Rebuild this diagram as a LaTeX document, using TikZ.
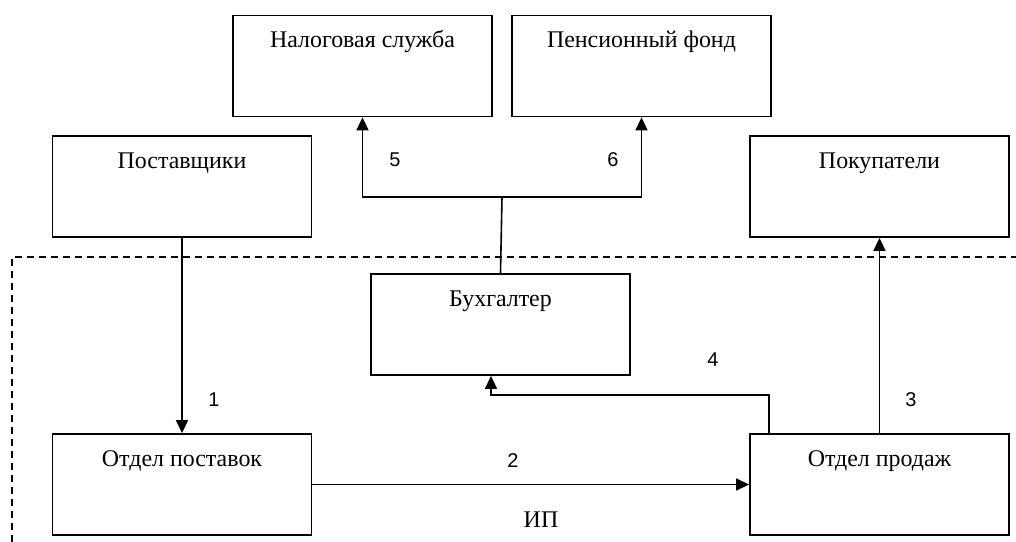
\documentclass[tikz,border=0pt]{standalone}
\usepackage{fontspec}
\setmainfont{Liberation Serif}
\newfontfamily\numfont{Liberation Sans}
\usetikzlibrary{arrows.meta}
\begin{document}
\begin{tikzpicture}[x=1bp,y=-1bp,
  blk/.style={draw, line width=1.8bp, minimum width=259bp, minimum height=101bp, inner sep=0pt},
  ttl/.style={anchor=base, inner sep=0pt, font=\fontsize{24}{27}\selectfont},
  num/.style={anchor=base, inner sep=0pt, font=\numfont\fontsize{20}{24}\selectfont},
  conn/.style={line width=1.6bp},
  arr/.style={line width=1.6bp, -{Triangle[length=13bp,width=12bp]}}]
\useasboundingbox (0,0) rectangle (1016,542);
% boxes
\node[blk] (nal) at (362.5,66) {};
\node[blk] (pen) at (641.5,66) {};
\node[blk] (post) at (182,186.5) {};
\node[blk] (pok) at (879.5,186.5) {};
\node[blk] (buh) at (500.5,324.5) {};
\node[blk] (otp) at (182,484.5) {};
\node[blk] (otpr) at (879.5,484.5) {};
% titles
\node[ttl] (tnal) at ([yshift=-33bp]nal.north) {Налоговая служба};
\node[ttl] (tpen) at ([yshift=-33bp]pen.north) {Пенсионный фонд};
\node[ttl] (tpost) at ([yshift=-33bp]post.north) {Поставщики};
\node[ttl] (tpok) at ([yshift=-33bp]pok.north) {Покупатели};
\node[ttl] (tbuh) at ([yshift=-33bp]buh.north) {Бухгалтер};
\node[ttl] (totp) at ([yshift=-33bp]otp.north) {Отдел поставок};
\node[ttl] (totpr) at ([yshift=-33bp]otpr.north) {Отдел продаж};
% dashed boundary
\coordinate (dl) at (12,542);
\coordinate (dc) at (12,257);
\coordinate (dr) at (1016,257);
\draw[line width=1.4bp, dash pattern=on 7bp off 5bp] (dl) -- (dc) -- (dr);
% connectors
\draw[arr] (post.south) -- (otp.north);
\draw[arr] (otp.east) -- (otpr.west);
\draw[arr] (otpr.north) -- (pok.south);
\coordinate (s4) at ([xshift=20bp]otpr.north west);
\coordinate (c4) at (491,395);
\draw[arr] (s4) |- (c4) -- (c4 |- buh.south);
\coordinate (j) at (502,197);
\draw[conn] (buh.north) -- (j);
\draw[arr] (j) -| (nal.south);
\draw[arr] (j) -| (pen.south);
% labels
\node[num] (n1) at (214,406) {1};
\node[num] (n2) at (513,467) {2};
\node[num] (n3) at (911,406) {3};
\node[num] (n4) at (713,367) {4};
\node[num] (n5) at (395,167) {5};
\node[num] (n6) at (613,167) {6};
\node[ttl] (ip) at (541,527) {ИП};
\end{tikzpicture}
\end{document}
